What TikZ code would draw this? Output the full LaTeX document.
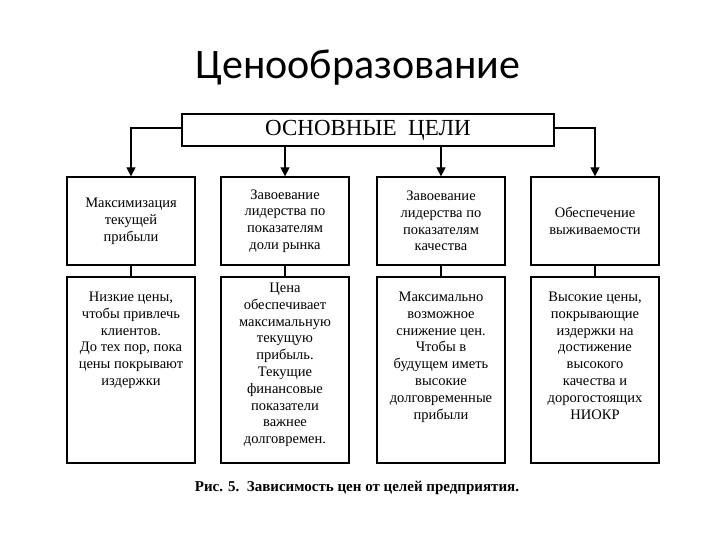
\documentclass[tikz,border=0pt]{standalone}
\usepackage{fontspec}
\setmainfont{Liberation Serif}
\newfontfamily\titlefont{Carlito}
\usetikzlibrary{arrows.meta}
\begin{document}
\begin{tikzpicture}[x=1pt,y=-1pt,
  box/.style={draw,line width=1.3pt,minimum width=128pt,align=center,inner sep=1pt,font=\fontsize{14.5}{16.8}\selectfont},
  arr/.style={line width=1.3pt,-{Triangle[length=9pt,width=9pt]}},
  ln/.style={line width=1.3pt}]
\useasboundingbox (0,0) rectangle (720,540);
\node[font=\titlefont\fontsize{42}{48}\selectfont] (title) at (358,68) {Ценообразование};
\node[draw,line width=2.2pt,minimum width=372pt,minimum height=32pt,font=\fontsize{23}{26}\selectfont] (top) at (368,130) {ОСНОВНЫЕ\ \ ЦЕЛИ};
\foreach \i/\x in {1/131,2/285,3/441,4/595}{
  \node[box,minimum height=88pt] (u\i) at (\x,221) {};
  \node[box,minimum height=186pt] (l\i) at (\x,370) {};
  \draw[ln] (u\i.south) -- (l\i.north);
}
\node[box,draw=none] at (u1) {Максимизация\\текущей\\прибыли};
\node[box,draw=none] at (u2) {Завоевание\\лидерства по\\показателям\\доли рынка};
\node[box,draw=none] at (u3) {Завоевание\\лидерства по\\показателям\\качества};
\node[box,draw=none] at (u4) {Обеспечение\\выживаемости};
\node[box,draw=none,anchor=north] at ([yshift=-14pt]l1.north) {Низкие цены,\\чтобы привлечь\\клиентов.\\До тех пор, пока\\цены покрывают\\издержки};
\node[box,draw=none,anchor=north] at ([yshift=-5pt]l2.north) {Цена\\обеспечивает\\максимальную\\текущую\\прибыль.\\Текущие\\финансовые\\показатели\\важнее\\долговремен.};
\node[box,draw=none,anchor=north] at ([yshift=-14pt]l3.north) {Максимально\\возможное\\снижение цен.\\Чтобы в\\будущем иметь\\высокие\\долговременные\\прибыли};
\node[box,draw=none,anchor=north] at ([yshift=-14pt]l4.north) {Высокие цены,\\покрывающие\\издержки на\\достижение\\высокого\\качества и\\дорогостоящих\\НИОКР};
\coordinate (c1) at (131,128);
\coordinate (c4) at (595,128);
\draw[arr] (top.west |- c1) -- (c1) -- (u1.north);
\draw[arr] (top.east |- c4) -- (c4) -- (u4.north);
\draw[arr] (top.south -| u2.north) -- (u2.north);
\draw[arr] (top.south -| u3.north) -- (u3.north);
\node[font=\bfseries\fontsize{15}{18}\selectfont] (cap) at (357,488) {Рис. 5.\ \ Зависимость цен от целей предприятия.};
\end{tikzpicture}
\end{document}
